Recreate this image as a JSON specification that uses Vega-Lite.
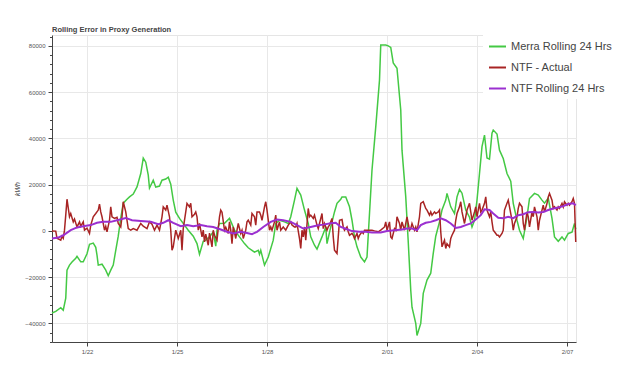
{
"$schema": "https://vega.github.io/schema/vega-lite/v6.json",
"width": 524, "height": 307,
"autosize": {"type": "none"},
"padding": {"left": 52, "top": 35, "right": 51, "bottom": 27},
"background": "white",
"title": {"text": "Rolling Error in Proxy Generation", "anchor": "start", "frame": "group", "fontSize": 7.5, "fontWeight": "bold", "color": "#444", "font": "Liberation Sans", "offset": -1.5},
"config": {"view": {"stroke": "#e5e5e5"}, "font": "Liberation Sans"},
"datasets": {
"merra": [
{"time":"2019-01-20T20:00Z","kWh":-35500},{"time":"2019-01-20T23:00Z","kWh":-34800},{"time":"2019-01-21T03:00Z","kWh":-33200},{"time":"2019-01-21T05:00Z","kWh":-34300},{"time":"2019-01-21T07:00Z","kWh":-29100},{"time":"2019-01-21T08:00Z","kWh":-17000},{"time":"2019-01-21T10:00Z","kWh":-14800},{"time":"2019-01-21T12:00Z","kWh":-13500},{"time":"2019-01-21T15:00Z","kWh":-11800},{"time":"2019-01-21T16:00Z","kWh":-11000},{"time":"2019-01-21T19:00Z","kWh":-13400},{"time":"2019-01-21T21:00Z","kWh":-13400},
{"time":"2019-01-22T00:00Z","kWh":-9900},{"time":"2019-01-22T02:00Z","kWh":-5800},{"time":"2019-01-22T05:00Z","kWh":-5300},{"time":"2019-01-22T07:00Z","kWh":-7100},{"time":"2019-01-22T08:00Z","kWh":-10500},{"time":"2019-01-22T09:00Z","kWh":-14800},{"time":"2019-01-22T12:00Z","kWh":-14400},{"time":"2019-01-22T15:00Z","kWh":-17000},{"time":"2019-01-22T17:00Z","kWh":-19400},{"time":"2019-01-22T19:00Z","kWh":-17000},{"time":"2019-01-22T21:00Z","kWh":-14800},{"time":"2019-01-22T23:00Z","kWh":-8400},
{"time":"2019-01-23T01:00Z","kWh":-2300},{"time":"2019-01-23T03:00Z","kWh":5500},{"time":"2019-01-23T05:00Z","kWh":12000},{"time":"2019-01-23T08:00Z","kWh":13700},{"time":"2019-01-23T10:00Z","kWh":14700},{"time":"2019-01-23T13:00Z","kWh":15900},{"time":"2019-01-23T16:00Z","kWh":19000},{"time":"2019-01-23T19:00Z","kWh":24800},{"time":"2019-01-23T21:00Z","kWh":31500},{"time":"2019-01-23T23:00Z","kWh":29700},
{"time":"2019-01-24T01:00Z","kWh":24100},{"time":"2019-01-24T02:00Z","kWh":18500},{"time":"2019-01-24T05:00Z","kWh":21900},{"time":"2019-01-24T07:00Z","kWh":18900},{"time":"2019-01-24T10:00Z","kWh":19400},{"time":"2019-01-24T12:00Z","kWh":21900},{"time":"2019-01-24T15:00Z","kWh":22400},{"time":"2019-01-24T17:00Z","kWh":23200},{"time":"2019-01-24T19:00Z","kWh":20200},{"time":"2019-01-24T21:00Z","kWh":13300},{"time":"2019-01-24T23:00Z","kWh":8100},
{"time":"2019-01-25T02:00Z","kWh":5400},{"time":"2019-01-25T06:00Z","kWh":2500},{"time":"2019-01-25T09:00Z","kWh":300},{"time":"2019-01-25T13:00Z","kWh":-2300},{"time":"2019-01-25T16:00Z","kWh":-5500},{"time":"2019-01-25T18:00Z","kWh":-10100},{"time":"2019-01-25T21:00Z","kWh":-4500},{"time":"2019-01-25T23:00Z","kWh":-4000},
{"time":"2019-01-26T02:00Z","kWh":-2600},{"time":"2019-01-26T05:00Z","kWh":-400},{"time":"2019-01-26T07:00Z","kWh":-6600},{"time":"2019-01-26T08:00Z","kWh":300},{"time":"2019-01-26T10:00Z","kWh":3200},{"time":"2019-01-26T14:00Z","kWh":3300},{"time":"2019-01-26T18:00Z","kWh":5400},{"time":"2019-01-26T20:00Z","kWh":2900},{"time":"2019-01-26T22:00Z","kWh":300},
{"time":"2019-01-27T02:00Z","kWh":-2600},{"time":"2019-01-27T06:00Z","kWh":-5500},{"time":"2019-01-27T09:00Z","kWh":-7300},{"time":"2019-01-27T12:00Z","kWh":-8400},{"time":"2019-01-27T14:00Z","kWh":-9200},{"time":"2019-01-27T17:00Z","kWh":-8400},{"time":"2019-01-27T18:00Z","kWh":-10100},{"time":"2019-01-27T19:00Z","kWh":-8400},{"time":"2019-01-27T22:00Z","kWh":-14800},
{"time":"2019-01-28T01:00Z","kWh":-11300},{"time":"2019-01-28T05:00Z","kWh":-4000},{"time":"2019-01-28T07:00Z","kWh":3200},{"time":"2019-01-28T10:00Z","kWh":4600},{"time":"2019-01-28T14:00Z","kWh":3900},{"time":"2019-01-28T17:00Z","kWh":3200},{"time":"2019-01-28T19:00Z","kWh":6100},{"time":"2019-01-28T22:00Z","kWh":13300},
{"time":"2019-01-29T00:00Z","kWh":18400},{"time":"2019-01-29T03:00Z","kWh":15500},{"time":"2019-01-29T06:00Z","kWh":9000},{"time":"2019-01-29T09:00Z","kWh":3200},{"time":"2019-01-29T11:00Z","kWh":-2600},{"time":"2019-01-29T14:00Z","kWh":-6200},{"time":"2019-01-29T16:00Z","kWh":-7900},{"time":"2019-01-29T20:00Z","kWh":-2600},{"time":"2019-01-29T23:00Z","kWh":1700},
{"time":"2019-01-30T00:00Z","kWh":-5500},{"time":"2019-01-30T03:00Z","kWh":1700},{"time":"2019-01-30T06:00Z","kWh":8200},{"time":"2019-01-30T08:00Z","kWh":11900},{"time":"2019-01-30T11:00Z","kWh":13700},{"time":"2019-01-30T12:00Z","kWh":14700},{"time":"2019-01-30T15:00Z","kWh":14700},{"time":"2019-01-30T18:00Z","kWh":10400},{"time":"2019-01-30T20:00Z","kWh":4600},{"time":"2019-01-30T22:00Z","kWh":-2600},
{"time":"2019-01-31T00:00Z","kWh":-6900},{"time":"2019-01-31T03:00Z","kWh":-11300},{"time":"2019-01-31T06:00Z","kWh":-13400},{"time":"2019-01-31T08:00Z","kWh":-11300},{"time":"2019-01-31T10:00Z","kWh":7500},{"time":"2019-01-31T12:00Z","kWh":26300},{"time":"2019-01-31T15:00Z","kWh":45000},{"time":"2019-01-31T18:00Z","kWh":65200},{"time":"2019-01-31T19:00Z","kWh":80400},{"time":"2019-01-31T23:00Z","kWh":80400},
{"time":"2019-02-01T01:00Z","kWh":80000},{"time":"2019-02-01T03:00Z","kWh":79300},{"time":"2019-02-01T05:00Z","kWh":72600},{"time":"2019-02-01T08:00Z","kWh":70300},{"time":"2019-02-01T11:00Z","kWh":52300},{"time":"2019-02-01T12:00Z","kWh":34900},{"time":"2019-02-01T15:00Z","kWh":14700},{"time":"2019-02-01T17:00Z","kWh":-4800},{"time":"2019-02-01T19:00Z","kWh":-25700},{"time":"2019-02-01T20:00Z","kWh":-33000},{"time":"2019-02-01T23:00Z","kWh":-40000},
{"time":"2019-02-02T00:00Z","kWh":-45200},{"time":"2019-02-02T03:00Z","kWh":-40000},{"time":"2019-02-02T05:00Z","kWh":-27000},{"time":"2019-02-02T08:00Z","kWh":-21300},{"time":"2019-02-02T11:00Z","kWh":-18300},{"time":"2019-02-02T13:00Z","kWh":-9700},{"time":"2019-02-02T15:00Z","kWh":-2300},{"time":"2019-02-02T18:00Z","kWh":3900},{"time":"2019-02-02T20:00Z","kWh":9000},{"time":"2019-02-02T23:00Z","kWh":13300},
{"time":"2019-02-03T00:00Z","kWh":16200},{"time":"2019-02-03T03:00Z","kWh":10400},{"time":"2019-02-03T06:00Z","kWh":7500},{"time":"2019-02-03T08:00Z","kWh":14700},{"time":"2019-02-03T10:00Z","kWh":17900},{"time":"2019-02-03T12:00Z","kWh":16300},{"time":"2019-02-03T15:00Z","kWh":9000},{"time":"2019-02-03T18:00Z","kWh":5900},{"time":"2019-02-03T20:00Z","kWh":1700},{"time":"2019-02-03T22:00Z","kWh":4600},
{"time":"2019-02-04T00:00Z","kWh":13300},{"time":"2019-02-04T02:00Z","kWh":24800},{"time":"2019-02-04T04:00Z","kWh":36400},{"time":"2019-02-04T06:00Z","kWh":41400},{"time":"2019-02-04T08:00Z","kWh":31500},{"time":"2019-02-04T10:00Z","kWh":31000},{"time":"2019-02-04T12:00Z","kWh":42200},{"time":"2019-02-04T13:00Z","kWh":43600},{"time":"2019-02-04T16:00Z","kWh":41900},{"time":"2019-02-04T18:00Z","kWh":34900},{"time":"2019-02-04T21:00Z","kWh":31300},
{"time":"2019-02-05T00:00Z","kWh":24800},{"time":"2019-02-05T03:00Z","kWh":21500},{"time":"2019-02-05T05:00Z","kWh":11900},{"time":"2019-02-05T08:00Z","kWh":4600},{"time":"2019-02-05T10:00Z","kWh":300},{"time":"2019-02-05T13:00Z","kWh":-3300},{"time":"2019-02-05T16:00Z","kWh":6100},{"time":"2019-02-05T18:00Z","kWh":14000},{"time":"2019-02-05T22:00Z","kWh":16200},
{"time":"2019-02-06T01:00Z","kWh":15500},{"time":"2019-02-06T04:00Z","kWh":13300},{"time":"2019-02-06T06:00Z","kWh":12000},{"time":"2019-02-06T09:00Z","kWh":14200},{"time":"2019-02-06T12:00Z","kWh":5400},{"time":"2019-02-06T14:00Z","kWh":-2600},{"time":"2019-02-06T17:00Z","kWh":-4500},{"time":"2019-02-06T20:00Z","kWh":-2600},{"time":"2019-02-06T22:00Z","kWh":-4000},
{"time":"2019-02-07T01:00Z","kWh":-1100},{"time":"2019-02-07T04:00Z","kWh":-600},{"time":"2019-02-07T06:00Z","kWh":3200},{"time":"2019-02-07T07:00Z","kWh":700}
],
"actual": [
{"time":"2019-01-20T20:00Z","kWh":0},{"time":"2019-01-20T23:00Z","kWh":-100},{"time":"2019-01-21T00:00Z","kWh":-3200},{"time":"2019-01-21T03:00Z","kWh":-4000},{"time":"2019-01-21T04:00Z","kWh":-2300},{"time":"2019-01-21T05:00Z","kWh":-3200},{"time":"2019-01-21T06:00Z","kWh":300},{"time":"2019-01-21T07:00Z","kWh":6800},{"time":"2019-01-21T08:00Z","kWh":13700},{"time":"2019-01-21T10:00Z","kWh":6100},{"time":"2019-01-21T11:00Z","kWh":7500},{"time":"2019-01-21T13:00Z","kWh":3900},{"time":"2019-01-21T14:00Z","kWh":5100},{"time":"2019-01-21T16:00Z","kWh":1700},{"time":"2019-01-21T18:00Z","kWh":3900},{"time":"2019-01-21T19:00Z","kWh":2000},{"time":"2019-01-21T21:00Z","kWh":3900},{"time":"2019-01-21T22:00Z","kWh":300},
{"time":"2019-01-22T00:00Z","kWh":1200},{"time":"2019-01-22T02:00Z","kWh":-1100},{"time":"2019-01-22T03:00Z","kWh":2500},{"time":"2019-01-22T05:00Z","kWh":6100},{"time":"2019-01-22T07:00Z","kWh":7500},{"time":"2019-01-22T09:00Z","kWh":9000},{"time":"2019-01-22T10:00Z","kWh":11600},{"time":"2019-01-22T11:00Z","kWh":8200},{"time":"2019-01-22T12:00Z","kWh":6100},{"time":"2019-01-22T14:00Z","kWh":300},{"time":"2019-01-22T15:00Z","kWh":2000},{"time":"2019-01-22T16:00Z","kWh":-400},{"time":"2019-01-22T18:00Z","kWh":4600},{"time":"2019-01-22T19:00Z","kWh":10400},{"time":"2019-01-22T20:00Z","kWh":6100},{"time":"2019-01-22T22:00Z","kWh":5400},
{"time":"2019-01-23T00:00Z","kWh":5900},{"time":"2019-01-23T01:00Z","kWh":3200},{"time":"2019-01-23T03:00Z","kWh":1700},{"time":"2019-01-23T04:00Z","kWh":6100},{"time":"2019-01-23T05:00Z","kWh":12600},{"time":"2019-01-23T07:00Z","kWh":8200},{"time":"2019-01-23T09:00Z","kWh":1000},{"time":"2019-01-23T11:00Z","kWh":300},{"time":"2019-01-23T13:00Z","kWh":1000},{"time":"2019-01-23T16:00Z","kWh":300},{"time":"2019-01-23T19:00Z","kWh":3200},{"time":"2019-01-23T21:00Z","kWh":2000},
{"time":"2019-01-24T00:00Z","kWh":1000},{"time":"2019-01-24T02:00Z","kWh":3900},{"time":"2019-01-24T04:00Z","kWh":2900},{"time":"2019-01-24T06:00Z","kWh":300},{"time":"2019-01-24T08:00Z","kWh":2500},{"time":"2019-01-24T10:00Z","kWh":300},{"time":"2019-01-24T12:00Z","kWh":6100},{"time":"2019-01-24T13:00Z","kWh":10400},{"time":"2019-01-24T15:00Z","kWh":9000},{"time":"2019-01-24T16:00Z","kWh":11100},{"time":"2019-01-24T18:00Z","kWh":6100},{"time":"2019-01-24T19:00Z","kWh":300},{"time":"2019-01-24T20:00Z","kWh":-8400},{"time":"2019-01-24T21:00Z","kWh":-6900},{"time":"2019-01-24T23:00Z","kWh":300},
{"time":"2019-01-25T01:00Z","kWh":-3300},{"time":"2019-01-25T03:00Z","kWh":300},{"time":"2019-01-25T04:00Z","kWh":-8400},{"time":"2019-01-25T05:00Z","kWh":1000},{"time":"2019-01-25T07:00Z","kWh":8200},{"time":"2019-01-25T08:00Z","kWh":11900},{"time":"2019-01-25T10:00Z","kWh":10400},{"time":"2019-01-25T11:00Z","kWh":11900},{"time":"2019-01-25T12:00Z","kWh":6100},{"time":"2019-01-25T14:00Z","kWh":7200},{"time":"2019-01-25T15:00Z","kWh":8200},{"time":"2019-01-25T16:00Z","kWh":6100},{"time":"2019-01-25T17:00Z","kWh":300},{"time":"2019-01-25T18:00Z","kWh":3200},{"time":"2019-01-25T20:00Z","kWh":-2600},{"time":"2019-01-25T21:00Z","kWh":300},{"time":"2019-01-25T22:00Z","kWh":-4800},{"time":"2019-01-25T23:00Z","kWh":-1400},
{"time":"2019-01-26T01:00Z","kWh":-6200},{"time":"2019-01-26T02:00Z","kWh":-1000},{"time":"2019-01-26T04:00Z","kWh":-6900},{"time":"2019-01-26T05:00Z","kWh":300},{"time":"2019-01-26T06:00Z","kWh":-1900},{"time":"2019-01-26T08:00Z","kWh":-4000},{"time":"2019-01-26T10:00Z","kWh":6100},{"time":"2019-01-26T11:00Z","kWh":9000},{"time":"2019-01-26T12:00Z","kWh":8100},{"time":"2019-01-26T14:00Z","kWh":300},{"time":"2019-01-26T15:00Z","kWh":1600},{"time":"2019-01-26T17:00Z","kWh":-1100},{"time":"2019-01-26T18:00Z","kWh":3900},{"time":"2019-01-26T19:00Z","kWh":300},{"time":"2019-01-26T20:00Z","kWh":-5500},{"time":"2019-01-26T21:00Z","kWh":1700},{"time":"2019-01-26T23:00Z","kWh":-3300},
{"time":"2019-01-27T00:00Z","kWh":300},{"time":"2019-01-27T01:00Z","kWh":3200},{"time":"2019-01-27T03:00Z","kWh":-1100},{"time":"2019-01-27T04:00Z","kWh":300},{"time":"2019-01-27T05:00Z","kWh":-3300},{"time":"2019-01-27T07:00Z","kWh":300},{"time":"2019-01-27T08:00Z","kWh":3900},{"time":"2019-01-27T09:00Z","kWh":4600},{"time":"2019-01-27T11:00Z","kWh":2500},{"time":"2019-01-27T12:00Z","kWh":7500},{"time":"2019-01-27T14:00Z","kWh":6100},{"time":"2019-01-27T15:00Z","kWh":2500},{"time":"2019-01-27T16:00Z","kWh":8200},{"time":"2019-01-27T18:00Z","kWh":8200},{"time":"2019-01-27T19:00Z","kWh":6800},{"time":"2019-01-27T20:00Z","kWh":4600},{"time":"2019-01-27T22:00Z","kWh":10400},{"time":"2019-01-27T23:00Z","kWh":12600},
{"time":"2019-01-28T00:00Z","kWh":9000},{"time":"2019-01-28T02:00Z","kWh":300},{"time":"2019-01-28T03:00Z","kWh":1700},{"time":"2019-01-28T04:00Z","kWh":300},{"time":"2019-01-28T06:00Z","kWh":3900},{"time":"2019-01-28T07:00Z","kWh":6800},{"time":"2019-01-28T08:00Z","kWh":300},{"time":"2019-01-28T10:00Z","kWh":3900},{"time":"2019-01-28T11:00Z","kWh":300},{"time":"2019-01-28T13:00Z","kWh":1700},{"time":"2019-01-28T15:00Z","kWh":300},{"time":"2019-01-28T17:00Z","kWh":2500},{"time":"2019-01-28T19:00Z","kWh":3900},{"time":"2019-01-28T20:00Z","kWh":2500},{"time":"2019-01-28T22:00Z","kWh":1700},{"time":"2019-01-28T23:00Z","kWh":1700},
{"time":"2019-01-29T00:00Z","kWh":3200},{"time":"2019-01-29T02:00Z","kWh":-3300},{"time":"2019-01-29T03:00Z","kWh":-7600},{"time":"2019-01-29T04:00Z","kWh":300},{"time":"2019-01-29T05:00Z","kWh":-2600},{"time":"2019-01-29T06:00Z","kWh":1700},{"time":"2019-01-29T07:00Z","kWh":-4000},{"time":"2019-01-29T09:00Z","kWh":9700},{"time":"2019-01-29T10:00Z","kWh":6100},{"time":"2019-01-29T11:00Z","kWh":6800},{"time":"2019-01-29T13:00Z","kWh":5400},{"time":"2019-01-29T14:00Z","kWh":6800},{"time":"2019-01-29T16:00Z","kWh":2500},{"time":"2019-01-29T17:00Z","kWh":1000},{"time":"2019-01-29T18:00Z","kWh":3200},{"time":"2019-01-29T20:00Z","kWh":7500},{"time":"2019-01-29T21:00Z","kWh":1000},{"time":"2019-01-29T22:00Z","kWh":3200},
{"time":"2019-01-30T00:00Z","kWh":300},{"time":"2019-01-30T01:00Z","kWh":1700},{"time":"2019-01-30T02:00Z","kWh":2500},{"time":"2019-01-30T04:00Z","kWh":5400},{"time":"2019-01-30T05:00Z","kWh":-2600},{"time":"2019-01-30T06:00Z","kWh":-8400},{"time":"2019-01-30T08:00Z","kWh":-9800},{"time":"2019-01-30T09:00Z","kWh":-2600},{"time":"2019-01-30T10:00Z","kWh":4600},{"time":"2019-01-30T12:00Z","kWh":4900},{"time":"2019-01-30T13:00Z","kWh":1700},{"time":"2019-01-30T14:00Z","kWh":300},{"time":"2019-01-30T16:00Z","kWh":1700},{"time":"2019-01-30T17:00Z","kWh":-400},{"time":"2019-01-30T18:00Z","kWh":-1900},{"time":"2019-01-30T20:00Z","kWh":-1100},{"time":"2019-01-30T21:00Z","kWh":-1900},{"time":"2019-01-30T22:00Z","kWh":-3300},
{"time":"2019-01-31T00:00Z","kWh":-1100},{"time":"2019-01-31T01:00Z","kWh":-3300},{"time":"2019-01-31T02:00Z","kWh":-1900},{"time":"2019-01-31T04:00Z","kWh":-400},{"time":"2019-01-31T05:00Z","kWh":-1100},{"time":"2019-01-31T06:00Z","kWh":300},{"time":"2019-01-31T09:00Z","kWh":300},{"time":"2019-01-31T12:00Z","kWh":300},{"time":"2019-01-31T14:00Z","kWh":0},{"time":"2019-01-31T17:00Z","kWh":-400},{"time":"2019-01-31T19:00Z","kWh":300},{"time":"2019-01-31T22:00Z","kWh":1700},{"time":"2019-01-31T23:00Z","kWh":3900},
{"time":"2019-02-01T00:00Z","kWh":300},{"time":"2019-02-01T02:00Z","kWh":3900},{"time":"2019-02-01T03:00Z","kWh":-2600},{"time":"2019-02-01T04:00Z","kWh":-3300},{"time":"2019-02-01T06:00Z","kWh":1000},{"time":"2019-02-01T07:00Z","kWh":300},{"time":"2019-02-01T08:00Z","kWh":6100},{"time":"2019-02-01T10:00Z","kWh":3200},{"time":"2019-02-01T11:00Z","kWh":300},{"time":"2019-02-01T12:00Z","kWh":3900},{"time":"2019-02-01T14:00Z","kWh":300},{"time":"2019-02-01T15:00Z","kWh":3200},{"time":"2019-02-01T16:00Z","kWh":6100},{"time":"2019-02-01T18:00Z","kWh":300},{"time":"2019-02-01T19:00Z","kWh":1000},{"time":"2019-02-01T20:00Z","kWh":3200},{"time":"2019-02-01T22:00Z","kWh":300},{"time":"2019-02-01T23:00Z","kWh":1700},
{"time":"2019-02-02T00:00Z","kWh":-400},{"time":"2019-02-02T02:00Z","kWh":6100},{"time":"2019-02-02T03:00Z","kWh":11900},{"time":"2019-02-02T05:00Z","kWh":12600},{"time":"2019-02-02T07:00Z","kWh":9700},{"time":"2019-02-02T08:00Z","kWh":9000},{"time":"2019-02-02T10:00Z","kWh":6800},{"time":"2019-02-02T11:00Z","kWh":8200},{"time":"2019-02-02T12:00Z","kWh":6800},{"time":"2019-02-02T14:00Z","kWh":8200},{"time":"2019-02-02T15:00Z","kWh":7500},{"time":"2019-02-02T17:00Z","kWh":8200},{"time":"2019-02-02T18:00Z","kWh":9000},{"time":"2019-02-02T19:00Z","kWh":-400},{"time":"2019-02-02T20:00Z","kWh":-6900},{"time":"2019-02-02T22:00Z","kWh":-4000},{"time":"2019-02-02T23:00Z","kWh":-7600},
{"time":"2019-02-03T00:00Z","kWh":-5500},{"time":"2019-02-03T02:00Z","kWh":-6900},{"time":"2019-02-03T03:00Z","kWh":-3300},{"time":"2019-02-03T04:00Z","kWh":-1900},{"time":"2019-02-03T06:00Z","kWh":300},{"time":"2019-02-03T07:00Z","kWh":4600},{"time":"2019-02-03T08:00Z","kWh":7500},{"time":"2019-02-03T10:00Z","kWh":10400},{"time":"2019-02-03T11:00Z","kWh":12600},{"time":"2019-02-03T12:00Z","kWh":8200},{"time":"2019-02-03T14:00Z","kWh":3200},{"time":"2019-02-03T15:00Z","kWh":6100},{"time":"2019-02-03T16:00Z","kWh":9000},{"time":"2019-02-03T18:00Z","kWh":11900},{"time":"2019-02-03T19:00Z","kWh":8200},{"time":"2019-02-03T20:00Z","kWh":4600},{"time":"2019-02-03T22:00Z","kWh":8200},{"time":"2019-02-03T23:00Z","kWh":10400},
{"time":"2019-02-04T00:00Z","kWh":6100},{"time":"2019-02-04T02:00Z","kWh":11900},{"time":"2019-02-04T03:00Z","kWh":8200},{"time":"2019-02-04T04:00Z","kWh":9000},{"time":"2019-02-04T06:00Z","kWh":11900},{"time":"2019-02-04T07:00Z","kWh":14700},{"time":"2019-02-04T08:00Z","kWh":9000},{"time":"2019-02-04T10:00Z","kWh":6100},{"time":"2019-02-04T11:00Z","kWh":8100},{"time":"2019-02-04T12:00Z","kWh":3900},{"time":"2019-02-04T13:00Z","kWh":300},{"time":"2019-02-04T14:00Z","kWh":-400},{"time":"2019-02-04T16:00Z","kWh":-1900},{"time":"2019-02-04T17:00Z","kWh":-1900},{"time":"2019-02-04T18:00Z","kWh":-2600},{"time":"2019-02-04T20:00Z","kWh":-1100},{"time":"2019-02-04T21:00Z","kWh":300},{"time":"2019-02-04T22:00Z","kWh":9000},
{"time":"2019-02-05T00:00Z","kWh":11900},{"time":"2019-02-05T01:00Z","kWh":13300},{"time":"2019-02-05T02:00Z","kWh":10400},{"time":"2019-02-05T04:00Z","kWh":4600},{"time":"2019-02-05T05:00Z","kWh":300},{"time":"2019-02-05T06:00Z","kWh":3200},{"time":"2019-02-05T08:00Z","kWh":6100},{"time":"2019-02-05T09:00Z","kWh":9700},{"time":"2019-02-05T10:00Z","kWh":11900},{"time":"2019-02-05T12:00Z","kWh":10400},{"time":"2019-02-05T13:00Z","kWh":3200},{"time":"2019-02-05T14:00Z","kWh":300},{"time":"2019-02-05T16:00Z","kWh":8200},{"time":"2019-02-05T17:00Z","kWh":6100},{"time":"2019-02-05T18:00Z","kWh":1700},{"time":"2019-02-05T20:00Z","kWh":8200},{"time":"2019-02-05T21:00Z","kWh":6100},{"time":"2019-02-05T22:00Z","kWh":10400},
{"time":"2019-02-06T00:00Z","kWh":6100},{"time":"2019-02-06T01:00Z","kWh":300},{"time":"2019-02-06T02:00Z","kWh":4600},{"time":"2019-02-06T04:00Z","kWh":9000},{"time":"2019-02-06T05:00Z","kWh":11100},{"time":"2019-02-06T06:00Z","kWh":8200},{"time":"2019-02-06T08:00Z","kWh":11900},{"time":"2019-02-06T09:00Z","kWh":14700},{"time":"2019-02-06T10:00Z","kWh":16200},{"time":"2019-02-06T12:00Z","kWh":13300},{"time":"2019-02-06T13:00Z","kWh":9700},{"time":"2019-02-06T14:00Z","kWh":10400},{"time":"2019-02-06T16:00Z","kWh":9000},{"time":"2019-02-06T17:00Z","kWh":10400},{"time":"2019-02-06T18:00Z","kWh":9700},{"time":"2019-02-06T20:00Z","kWh":11900},{"time":"2019-02-06T21:00Z","kWh":10400},{"time":"2019-02-06T22:00Z","kWh":12600},
{"time":"2019-02-07T00:00Z","kWh":11100},{"time":"2019-02-07T01:00Z","kWh":11900},{"time":"2019-02-07T02:00Z","kWh":11100},{"time":"2019-02-07T04:00Z","kWh":12600},{"time":"2019-02-07T05:00Z","kWh":14000},{"time":"2019-02-07T06:00Z","kWh":11900},{"time":"2019-02-07T07:00Z","kWh":-4800}
],
"rolling": [
{"time":"2019-01-20T20:00Z","kWh":-3300},{"time":"2019-01-21T01:00Z","kWh":-2900},{"time":"2019-01-21T05:00Z","kWh":-1900},{"time":"2019-01-21T11:00Z","kWh":300},{"time":"2019-01-21T16:00Z","kWh":1500},{"time":"2019-01-21T21:00Z","kWh":2000},{"time":"2019-01-22T03:00Z","kWh":2500},{"time":"2019-01-22T08:00Z","kWh":3500},{"time":"2019-01-22T13:00Z","kWh":3900},{"time":"2019-01-22T19:00Z","kWh":3900},
{"time":"2019-01-23T00:00Z","kWh":4600},{"time":"2019-01-23T07:00Z","kWh":5600},{"time":"2019-01-23T12:00Z","kWh":4600},{"time":"2019-01-23T19:00Z","kWh":4300},{"time":"2019-01-24T03:00Z","kWh":3900},{"time":"2019-01-24T09:00Z","kWh":2900},{"time":"2019-01-24T13:00Z","kWh":3500},{"time":"2019-01-24T17:00Z","kWh":4600},{"time":"2019-01-24T21:00Z","kWh":3500},
{"time":"2019-01-25T03:00Z","kWh":2000},{"time":"2019-01-25T08:00Z","kWh":2500},{"time":"2019-01-25T13:00Z","kWh":2000},{"time":"2019-01-25T19:00Z","kWh":2500},{"time":"2019-01-26T00:00Z","kWh":2000},{"time":"2019-01-26T05:00Z","kWh":1700},{"time":"2019-01-26T11:00Z","kWh":600},{"time":"2019-01-26T16:00Z","kWh":-400},{"time":"2019-01-26T21:00Z","kWh":-1100},
{"time":"2019-01-27T03:00Z","kWh":-400},{"time":"2019-01-27T08:00Z","kWh":-900},{"time":"2019-01-27T12:00Z","kWh":-1400},{"time":"2019-01-27T16:00Z","kWh":-400},{"time":"2019-01-27T21:00Z","kWh":1700},{"time":"2019-01-28T03:00Z","kWh":3900},{"time":"2019-01-28T08:00Z","kWh":4900},{"time":"2019-01-28T13:00Z","kWh":4600},{"time":"2019-01-28T19:00Z","kWh":3900},
{"time":"2019-01-29T00:00Z","kWh":2500},{"time":"2019-01-29T05:00Z","kWh":1000},{"time":"2019-01-29T11:00Z","kWh":1700},{"time":"2019-01-29T16:00Z","kWh":2300},{"time":"2019-01-29T21:00Z","kWh":2700},{"time":"2019-01-30T03:00Z","kWh":3300},{"time":"2019-01-30T07:00Z","kWh":3500},{"time":"2019-01-30T11:00Z","kWh":1700},{"time":"2019-01-30T16:00Z","kWh":700},{"time":"2019-01-30T20:00Z","kWh":-100},
{"time":"2019-01-31T02:00Z","kWh":-400},{"time":"2019-01-31T07:00Z","kWh":-400},{"time":"2019-01-31T12:00Z","kWh":-700},{"time":"2019-01-31T19:00Z","kWh":-700},{"time":"2019-02-01T00:00Z","kWh":-100},{"time":"2019-02-01T06:00Z","kWh":300},{"time":"2019-02-01T12:00Z","kWh":600},{"time":"2019-02-01T16:00Z","kWh":1000},{"time":"2019-02-01T20:00Z","kWh":1000},
{"time":"2019-02-02T00:00Z","kWh":300},{"time":"2019-02-02T03:00Z","kWh":2500},{"time":"2019-02-02T07:00Z","kWh":3500},{"time":"2019-02-02T11:00Z","kWh":3900},{"time":"2019-02-02T15:00Z","kWh":4600},{"time":"2019-02-02T19:00Z","kWh":5400},{"time":"2019-02-02T23:00Z","kWh":4600},
{"time":"2019-02-03T03:00Z","kWh":3200},{"time":"2019-02-03T07:00Z","kWh":1300},{"time":"2019-02-03T11:00Z","kWh":1700},{"time":"2019-02-03T15:00Z","kWh":2500},{"time":"2019-02-03T19:00Z","kWh":3200},{"time":"2019-02-03T23:00Z","kWh":4900},
{"time":"2019-02-04T03:00Z","kWh":6800},{"time":"2019-02-04T06:00Z","kWh":9300},{"time":"2019-02-04T10:00Z","kWh":9000},{"time":"2019-02-04T13:00Z","kWh":7500},{"time":"2019-02-04T17:00Z","kWh":5700},{"time":"2019-02-04T21:00Z","kWh":5500},
{"time":"2019-02-05T01:00Z","kWh":6100},{"time":"2019-02-05T05:00Z","kWh":5500},{"time":"2019-02-05T09:00Z","kWh":6800},{"time":"2019-02-05T13:00Z","kWh":7200},{"time":"2019-02-05T17:00Z","kWh":8100},{"time":"2019-02-05T21:00Z","kWh":8200},
{"time":"2019-02-06T01:00Z","kWh":7900},{"time":"2019-02-06T05:00Z","kWh":8200},{"time":"2019-02-06T09:00Z","kWh":9000},{"time":"2019-02-06T13:00Z","kWh":9700},{"time":"2019-02-06T17:00Z","kWh":10100},{"time":"2019-02-06T21:00Z","kWh":10700},
{"time":"2019-02-07T01:00Z","kWh":11600},{"time":"2019-02-07T05:00Z","kWh":11900},{"time":"2019-02-07T07:00Z","kWh":11100}
]
},
"encoding": {
"x": {"field": "time", "type": "temporal",
 "scale": {"type": "utc", "nice": false, "domain": [{"year":2019,"month":1,"date":20,"hours":20,"utc":true},{"year":2019,"month":2,"date":7,"hours":7,"minutes":12,"utc":true}]},
 "axis": {"title": null, "format": "%-m/%d", "values": [{"year":2019,"month":1,"date":22,"utc":true},{"year":2019,"month":1,"date":25,"utc":true},{"year":2019,"month":1,"date":28,"utc":true},{"year":2019,"month":2,"date":1,"utc":true},{"year":2019,"month":2,"date":4,"utc":true},{"year":2019,"month":2,"date":7,"utc":true}],
  "labelFontSize": 6, "labelColor": "#555", "labelFont": "Liberation Sans", "tickSize": 4, "labelPadding": 2, "tickColor": "#444", "domainColor": "#444", "gridColor": "#e8e8e8", "labelFlush": false}},
"y": {"field": "kWh", "type": "quantitative",
 "scale": {"domain": [-48050, 84700], "nice": false, "zero": false},
 "axis": {"title": "kWh", "values": [-40000,-20000,0,20000,40000,60000,80000], "format": "d", "labelFontSize": 6, "labelColor": "#555", "labelFont": "Liberation Sans", "tickSize": 4, "labelPadding": 3, "tickColor": "#444", "domainColor": "#444", "gridColor": "#e8e8e8", "titleFontSize": 7, "titleFontStyle": "italic", "titleFontWeight": "normal", "titleColor": "#444", "titleFont": "Liberation Sans", "titlePadding": 4}}
},
"layer": [
{"data": {"name": "merra"}, "mark": {"type": "line", "strokeWidth": 1.5},
 "encoding": {"color": {"datum": "Merra Rolling 24 Hrs", "type": "nominal",
  "scale": {"domain": ["Merra Rolling 24 Hrs", "NTF - Actual", "NTF Rolling 24 Hrs"], "range": ["#44c944", "#a82424", "#9b30d0"]},
  "legend": {"title": null, "orient": "none", "legendX": 431, "legendY": -3, "labelFontSize": 11, "labelColor": "#444", "labelFont": "Liberation Sans", "symbolType": "stroke", "symbolSize": 289, "symbolStrokeWidth": 2, "labelOffset": 4, "rowPadding": 6, "padding": 5, "fillColor": "white"}}}},
{"data": {"name": "actual"}, "mark": {"type": "line", "strokeWidth": 1.5},
 "encoding": {"color": {"datum": "NTF - Actual", "type": "nominal"},
  "y": {"field": "kWh", "type": "quantitative", "axis": null}}},
{"data": {"name": "rolling"}, "mark": {"type": "line", "strokeWidth": 2},
 "encoding": {"color": {"datum": "NTF Rolling 24 Hrs", "type": "nominal"},
  "y": {"field": "kWh", "type": "quantitative",
   "axis": {"orient": "left", "title": null, "labels": false, "grid": false, "domain": false, "tickSize": 2.5, "tickColor": "#444", "values": [-48000,-44000,-36000,-32000,-28000,-24000,-16000,-12000,-8000,-4000,4000,8000,12000,16000,24000,28000,32000,36000,44000,48000,52000,56000,64000,68000,72000,76000,84000]}}}}
],
"resolve": {"axis": {"y": "independent"}}
}
